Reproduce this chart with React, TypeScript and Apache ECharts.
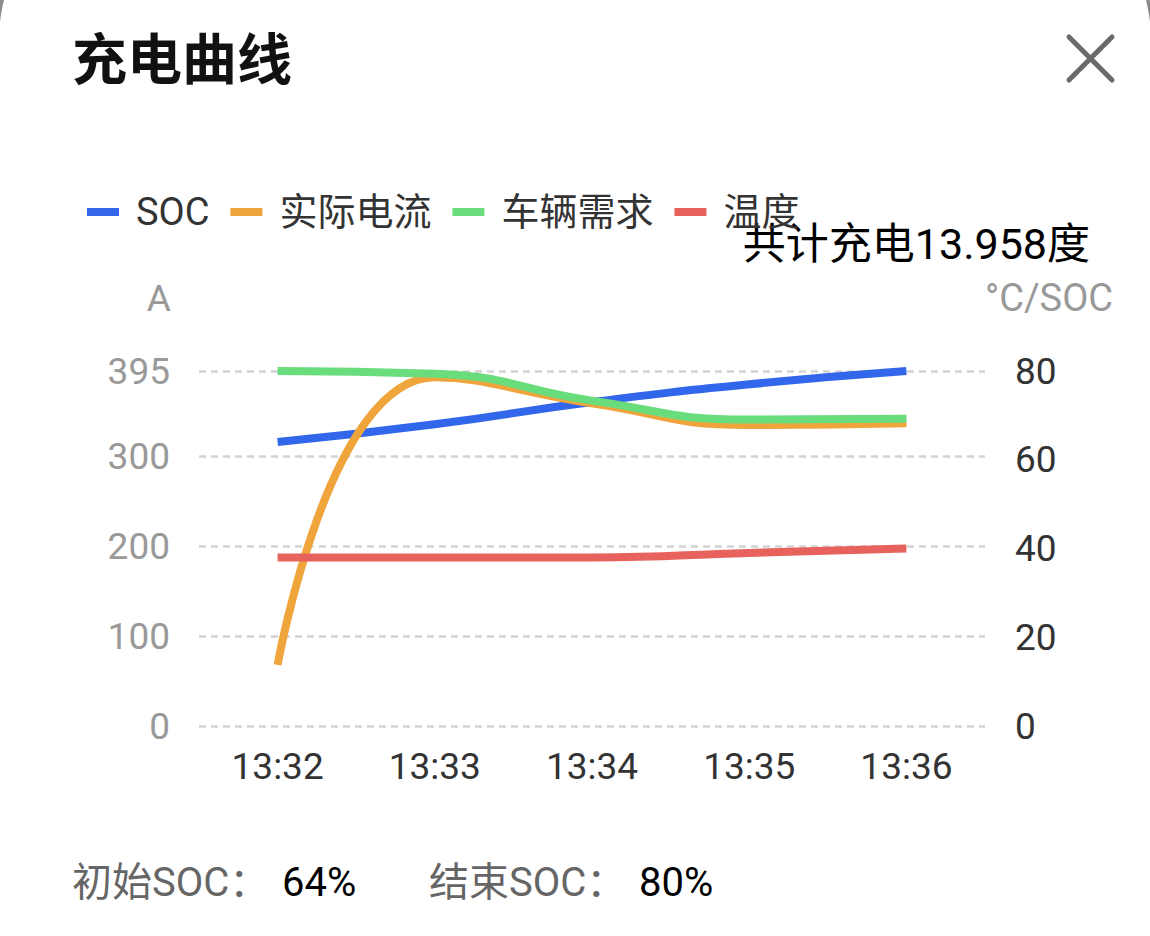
import React, { useEffect, useRef } from "react";
import * as echarts from "echarts";

// ---- data ----
const times = ["13:32", "13:33", "13:34", "13:35", "13:36"];
const socValues = [64, 68, 73, 77, 80];
const currentValues = [68, 388, 359, 335, 337];
const demandValues = [395, 392, 362, 341, 342];
const temperatureValues = [38, 38, 38, 39, 40];
const seriesNames = ["SOC", "实际电流", "车辆需求", "温度"];
const totalEnergy = "13.958";
const leftAxisName = "A";
const rightAxisName = "°C/SOC";
const leftAxisInterval = 100;
const rightAxisMax = 80;
const rightAxisInterval = 20;

// ---- styles ----
const COLORS = ["#3267EB", "#F0A43C", "#69DC7C", "#E8625D"];
const FONT = "Roboto, 'Noto Sans CJK SC', sans-serif";

export default function App() {
  const ref = useRef<HTMLDivElement>(null);

  useEffect(() => {
    if (!ref.current) return;
    const chart = echarts.init(ref.current, undefined, { renderer: "svg" });
    const leftMax = Math.max(...currentValues, ...demandValues);
    const startSoc = socValues[0];
    const endSoc = socValues[socValues.length - 1];

    const seriesData = [socValues, currentValues, demandValues, temperatureValues];
    const axisIndex = [1, 0, 0, 1];

    chart.setOption({
      animation: false,
      title: {
        text: "充电曲线",
        left: 72,
        top: 30,
        padding: 0,
        textStyle: {
          fontSize: 55,
          fontWeight: "bold",
          color: "#111",
          fontFamily: FONT,
          lineHeight: 60,
        },
      },
      legend: {
        data: seriesNames,
        left: 87,
        top: 192,
        padding: 0,
        icon: "rect",
        itemWidth: 32,
        itemHeight: 8,
        itemGap: 21,
        textStyle: {
          fontSize: 38,
          color: "#333",
          fontFamily: FONT,
          lineHeight: 40,
          padding: [0, 0, 0, 12],
        },
      },
      grid: { left: 199, right: 165, top: 371, bottom: 210 },
      xAxis: {
        type: "category",
        data: times,
        boundaryGap: true,
        axisLine: { show: false },
        axisTick: { show: false },
        axisLabel: {
          interval: 0,
          fontSize: 37,
          color: "#333",
          fontFamily: FONT,
          margin: 22,
        },
      },
      yAxis: [
        {
          type: "value",
          min: 0,
          max: leftMax,
          interval: leftAxisInterval,
          name: leftAxisName,
          nameLocation: "end",
          nameGap: 73,
          nameTextStyle: {
            fontSize: 37,
            color: "#999",
            fontFamily: FONT,
            align: "right",
            verticalAlign: "middle",
            padding: [0, 28, 0, 0],
          },
          axisLine: { show: false },
          axisTick: { show: false },
          axisLabel: {
            fontSize: 37,
            color: "#999",
            fontFamily: FONT,
            margin: 29,
            padding: [0, 0, 10, 0],
          },
          splitLine: {
            show: true,
            lineStyle: { color: "#d3d3d3", width: 2.5, type: [7, 5] },
          },
        },
        {
          type: "value",
          min: 0,
          max: rightAxisMax,
          interval: rightAxisInterval,
          name: rightAxisName,
          nameLocation: "end",
          nameGap: 73,
          nameTextStyle: {
            fontSize: 38,
            color: "#999",
            fontFamily: FONT,
            align: "left",
            verticalAlign: "middle",
          },
          axisLine: { show: false },
          axisTick: { show: false },
          axisLabel: {
            fontSize: 37,
            color: "#333",
            fontFamily: FONT,
            margin: 30,
            padding: [0, 0, 10, 0],
          },
          splitLine: { show: false },
        },
      ],
      series: seriesNames.map((name, i) => ({
        name,
        type: "line",
        yAxisIndex: axisIndex[i],
        data: seriesData[i],
        smooth: true,
        symbol: "none",
        color: COLORS[i],
        lineStyle: { width: 8, color: COLORS[i] },
      })),
      graphic: [
        {
          type: "line",
          shape: { x1: 1069, y1: 37, x2: 1112, y2: 80 },
          style: { stroke: "#6a6a6a", lineWidth: 5, lineCap: "round" },
        },
        {
          type: "line",
          shape: { x1: 1112, y1: 37, x2: 1069, y2: 80 },
          style: { stroke: "#6a6a6a", lineWidth: 5, lineCap: "round" },
        },
        {
          type: "text",
          x: 1090,
          y: 244,
          style: {
            text: `共计充电${totalEnergy}度`,
            fill: "#000",
            fontSize: 43,
            fontFamily: FONT,
            align: "right",
            verticalAlign: "middle",
          },
        },
        {
          type: "text",
          x: 72,
          y: 882,
          style: {
            text: "初始SOC：",
            fill: "#666",
            fontSize: 40,
            fontFamily: FONT,
            align: "left",
            verticalAlign: "middle",
          },
        },
        {
          type: "text",
          x: 282,
          y: 882,
          style: {
            text: `${startSoc}%`,
            fill: "#000",
            fontSize: 40,
            fontFamily: FONT,
            align: "left",
            verticalAlign: "middle",
          },
        },
        {
          type: "text",
          x: 429,
          y: 882,
          style: {
            text: "结束SOC：",
            fill: "#666",
            fontSize: 40,
            fontFamily: FONT,
            align: "left",
            verticalAlign: "middle",
          },
        },
        {
          type: "text",
          x: 639,
          y: 882,
          style: {
            text: `${endSoc}%`,
            fill: "#000",
            fontSize: 40,
            fontFamily: FONT,
            align: "left",
            verticalAlign: "middle",
          },
        },
      ],
    });

    return () => chart.dispose();
  }, []);

  return (
    <div
      style={{
        position: "fixed",
        left: 0,
        top: 0,
        width: 1150,
        height: 936,
        background: "#8c8c8c",
        overflow: "hidden",
      }}
    >
      <div
        style={{
          position: "absolute",
          left: -1,
          top: -122,
          width: 1152,
          height: 1058,
          background: "#fff",
          borderRadius: "162px 162px 0 0",
        }}
      />
      <div
        ref={ref}
        style={{ position: "absolute", left: 0, top: 0, width: 1150, height: 936 }}
      />
    </div>
  );
}
